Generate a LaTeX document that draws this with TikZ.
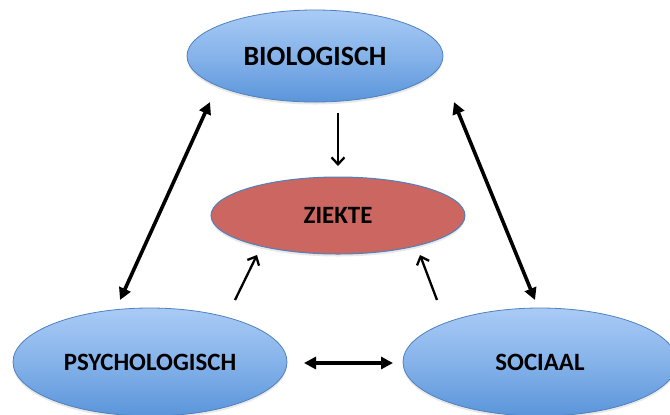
\documentclass[tikz,border=0pt]{standalone}
\usepackage{fontspec}
\setmainfont{Carlito}
\usetikzlibrary{shapes.geometric,arrows.meta,shadows}
\definecolor{bluetop}{HTML}{A9CBF6}
\definecolor{bluebot}{HTML}{5A95DA}
\definecolor{edgeblue}{HTML}{4F81BD}
\definecolor{ziekred}{HTML}{CC6660}
\tikzset{
  blob/.style={ellipse, draw=edgeblue, line width=0.8bp, inner sep=0pt,
    top color=bluetop, bottom color=bluebot, middle color=bluetop!55!bluebot,
    font=\bfseries, text=black,
    drop shadow={opacity=0.18, shadow xshift=0bp, shadow yshift=-2.5bp}},
  redblob/.style={ellipse, draw=edgeblue, line width=1bp, inner sep=0pt,
    fill=ziekred, font=\bfseries, text=black,
    drop shadow={opacity=0.18, shadow xshift=0bp, shadow yshift=-2.5bp}},
  dbl/.style={line width=3.6bp, {Triangle[length=12bp,width=12bp]}-{Triangle[length=12bp,width=12bp]}},
  sgl/.style={line width=2.3bp, -{Straight Barb[length=7bp,width=13bp,line width=2.3bp]}},
}
\begin{document}
\begin{tikzpicture}[x=1bp,y=-1bp]
\useasboundingbox (0,0) rectangle (670,414);
\clip (0,0) rectangle (670,414);
\node[blob, minimum width=256bp, minimum height=92bp, font=\bfseries\fontsize{28}{30}\selectfont] (bio) at (315,56) {BIOLOGISCH};
\node[redblob, minimum width=254bp, minimum height=77bp, font=\bfseries\fontsize{25}{27}\selectfont] (ziekte) at (338,215.5) {ZIEKTE};
\node[blob, minimum width=274bp, minimum height=108bp, font=\bfseries\fontsize{25}{27}\selectfont] (psych) at (150,362) {PSYCHOLOGISCH};
\node[blob, minimum width=274bp, minimum height=108bp, font=\bfseries\fontsize{25}{27}\selectfont] (soc) at (540,362) {SOCIAAL};
% arrow end points
\coordinate (pb1) at (120,300);
\coordinate (pb2) at (210,102);
\coordinate (sb1) at (535,300);
\coordinate (sb2) at (454,102);
\coordinate (bz1) at (338,113);
\coordinate (bz2) at (338,166);
\coordinate (pz1) at (235,300);
\coordinate (pz2) at (257,255);
\coordinate (sz1) at (437,300);
\coordinate (sz2) at (420,255);
\coordinate (ps1) at (304,363);
\coordinate (ps2) at (393,363);
\draw[dbl] (pb1) -- (pb2);
\draw[dbl] (sb1) -- (sb2);
\draw[dbl] (ps1) -- (ps2);
\draw[sgl] (bz1) -- (bz2);
\draw[sgl] (pz1) -- (pz2);
\draw[sgl] (sz1) -- (sz2);
\end{tikzpicture}
\end{document}
